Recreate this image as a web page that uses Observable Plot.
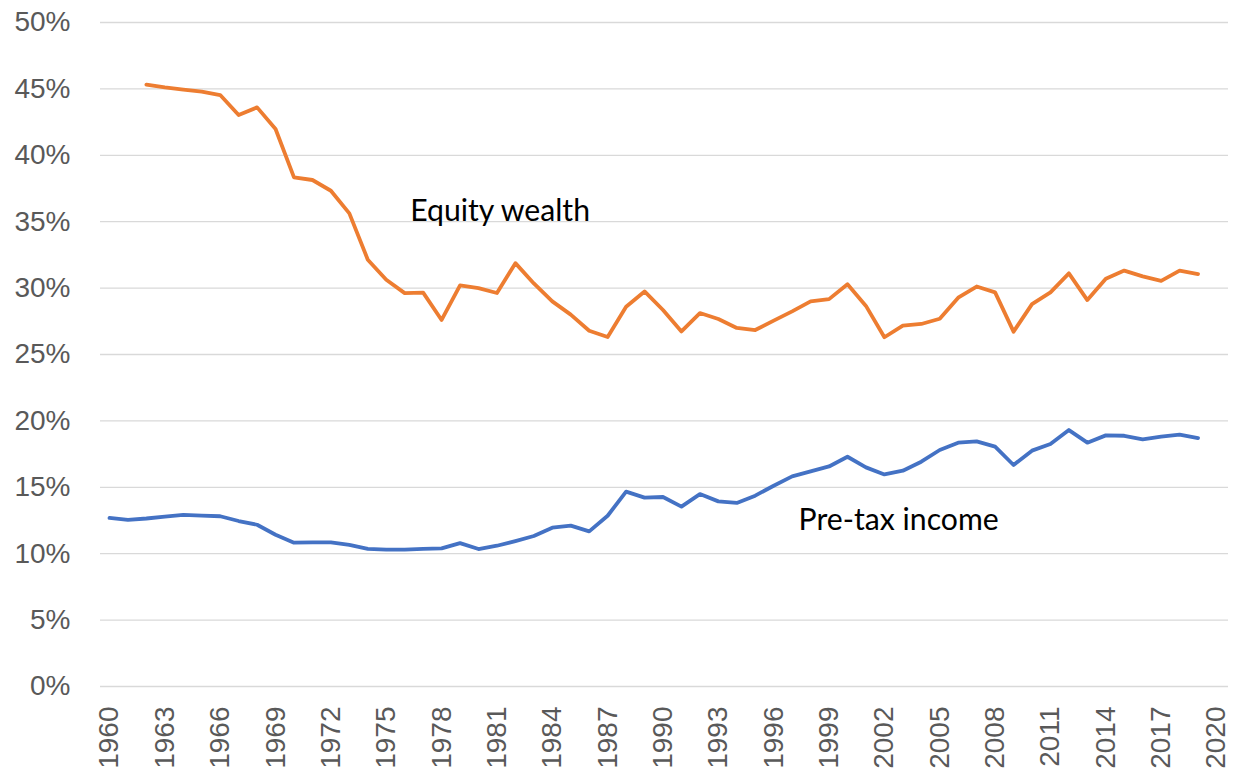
<!DOCTYPE html>
<html>
<head>
<meta charset="utf-8">
<script src="https://cdn.jsdelivr.net/npm/d3@7"></script>
<script src="https://cdn.jsdelivr.net/npm/@observablehq/plot@0.6"></script>
<style>
  html, body { margin: 0; padding: 0; background: #fff; }
</style>
</head>
<body>
<div id="chart"></div>
<script>
const incomeYears = d3.range(1960, 2020);
const incomeShare = [
  12.69, 12.54, 12.65, 12.80, 12.92, 12.86, 12.82, 12.46, 12.18, 11.43,
  10.83, 10.85, 10.85, 10.67, 10.37, 10.30, 10.30, 10.37, 10.40, 10.80,
  10.35, 10.60, 10.95, 11.33, 11.96, 12.11, 11.68, 12.86, 14.67, 14.22,
  14.27, 13.54, 14.49, 13.94, 13.82, 14.37, 15.12, 15.82, 16.20, 16.57,
  17.30, 16.50, 15.97, 16.25, 16.93, 17.81, 18.36, 18.46, 18.06, 16.68,
  17.76, 18.26, 19.31, 18.36, 18.91, 18.88, 18.61, 18.81, 18.96, 18.71
];
const equityYears = d3.range(1962, 2020);
const equityShare = [
  45.32, 45.11, 44.94, 44.79, 44.54, 43.03, 43.61, 41.98,
  38.34, 38.14, 37.33, 35.63, 32.14, 30.63, 29.62, 29.66, 27.60, 30.20,
  30.00, 29.63, 31.88, 30.35, 29.00, 28.00, 26.79, 26.32, 28.60, 29.75,
  28.35, 26.74, 28.12, 27.67, 27.00, 26.84, 27.55, 28.25, 29.00, 29.17,
  30.29, 28.66, 26.30, 27.18, 27.30, 27.69, 29.28, 30.12, 29.68, 26.72,
  28.79, 29.68, 31.11, 29.10, 30.71, 31.32, 30.88, 30.55, 31.32, 31.06
];
const xTicks = d3.range(1960, 2021, 3);
const yTicks = d3.range(0, 51, 5);
const labels = [
  {year: 1976.3, value: 35.8, text: "Equity wealth"},
  {year: 1997.35, value: 12.5, text: "Pre-tax income"}
];

const income = incomeYears.map((y, i) => ({year: y, value: incomeShare[i]}));
const equity = equityYears.map((y, i) => ({year: y, value: equityShare[i]}));

const chart = Plot.plot({
  width: 1238,
  height: 776,
  marginLeft: 109,
  marginRight: 22,
  marginTop: 22,
  marginBottom: 90,
  style: {fontFamily: "'Liberation Sans', Arial, sans-serif", fontSize: "28px", color: "#595959", background: "#fff"},
  x: {domain: [1960, 2020], ticks: xTicks, tickFormat: d => String(d), tickRotate: -90, tickSize: 0, tickPadding: 20, label: null},
  y: {domain: [0, 50], ticks: yTicks, tickFormat: d => d + "%", tickSize: 0, tickPadding: 39, label: null},
  marks: [
    Plot.ruleY(yTicks, {stroke: "#d9d9d9", strokeWidth: 1.3, insetLeft: -9, insetRight: -12}),
    Plot.axisX({ticks: xTicks, tickFormat: d => String(d), tickRotate: -90, tickSize: 0, tickPadding: 20, fontSize: 28, fill: "#595959"}),
    Plot.axisY({ticks: yTicks, tickFormat: d => d + "%", tickSize: 0, tickPadding: 39, fontSize: 28, fill: "#595959"}),
    Plot.line(equity, {x: "year", y: "value", stroke: "#ED7D31", strokeWidth: 3.8, strokeLinejoin: "round"}),
    Plot.line(income, {x: "year", y: "value", stroke: "#4472C4", strokeWidth: 3.8, strokeLinejoin: "round"}),
    Plot.text(labels, {x: "year", y: "value", text: "text", textAnchor: "start", lineAnchor: "middle", fontSize: 30.2, fill: "#000", fontFamily: "Lato, 'Open Sans', sans-serif"})
  ]
});
document.getElementById("chart").appendChild(chart);
</script>
</body>
</html>
